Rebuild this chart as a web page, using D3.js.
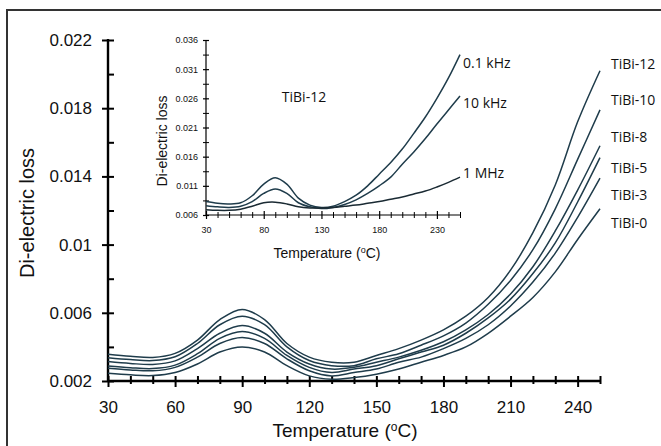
<!DOCTYPE html>
<html>
<head>
<meta charset="utf-8">
<script src="https://cdn.jsdelivr.net/npm/d3@7"></script>
<style>
  body { margin: 0; background: #fff; }
  svg { display: block; }
  text { font-family: "Liberation Sans", Arial, sans-serif; fill: #111; }
  .name { font-family: "Open Sans", sans-serif; }
</style>
</head>
<body>
<div id="chart"></div>
<script>
// temperature points shared by every curve (°C)
const temps = [30, 40, 50, 60, 70, 80, 90, 100, 110, 120, 130, 140, 150, 160, 170, 180, 190, 200, 210, 220, 230, 240, 250];

// main panel: di-electric loss for each sample
const tibi12 = [.00357, .00345, .00338, .00362, .0044, .0056, .0062, .0056, .0042, .0034, .0031, .0031, .0035, .0039, .0044, .0050, .0058, .0069, .0085, .0107, .0135, .0172, .0202];
const tibi10 = [.00337, .00326, .00320, .00342, .0042, .0053, .0058, .0053, .0040, .0032, .0029, .0029, .0033, .0036, .0041, .00465, .0054, .0065, .0079, .0097, .0121, .0150, .0179];
const tibi8 = [.00314, .00303, .00297, .00318, .0039, .0048, .00525, .0048, .0037, .0030, .0027, .0028, .0031, .0034, .0038, .0043, .0050, .0059, .0071, .0087, .0108, .0132, .0158];
const tibi5 = [.00288, .00278, .00273, .00293, .0036, .0045, .0049, .0045, .0035, .0028, .0025, .0027, .0029, .0033, .0037, .0041, .0048, .0057, .0068, .0083, .0101, .0125, .0151];
const tibi3 = [.00275, .00265, .00260, .00280, .0034, .0042, .00455, .0042, .0033, .0026, .0023, .0025, .0027, .0031, .0034, .0039, .0045, .0053, .0064, .0078, .0095, .0116, .0139];
const tibi0 = [.00245, .00236, .00232, .00250, .0030, .0037, .0040, .0037, .0029, .0023, .0021, .0022, .0024, .0027, .0031, .0035, .0040, .0048, .0058, .0069, .0084, .0103, .0121];
const sampleNames = ["TiBi-12", "TiBi-10", "TiBi-8", "TiBi-5", "TiBi-3", "TiBi-0"];
const sampleLevels = [0.02059, 0.01848, 0.01631, 0.01449, 0.01291, 0.01127]; // where each name sits

// inset: TiBi-12 at three frequencies
const f100Hz = [.0083, .0080, .0079, .0081, .0093, .0113, .0124, .0113, .0089, .0077, .0073, .0075, .0083, .0094, .0110, .0130, .0150, .0173, .0200, .0228, .0260, .0295, .0335];
const f10kHz = [.0076, .0074, .0073, .0075, .0083, .0097, .01045, .0097, .0081, .0074, .0071, .0073, .0078, .0086, .0097, .0110, .0125, .0147, .0168, .0191, .0216, .0240, .0264];
const f1MHz = [.0069, .0068, .0068, .0070, .0075, .0081, .0082, .0079, .0074, .0072, .0072, .0073, .0075, .0077, .0080, .0083, .0087, .0091, .0096, .0101, .0108, .0116, .0125];
const freqNames = ["0.1 kHz", "10 kHz", "1 MHz"];
const freqLevels = [0.03206, 0.0252, 0.0132];

// tick values
const xMajor = [30, 60, 90, 120, 150, 180, 210, 240];
const xMinor = d3.range(40, 251, 10).filter(d => !xMajor.includes(d));
const yMajor = [0.002, 0.006, 0.01, 0.014, 0.018, 0.022];
const yMinor = [0.004, 0.008, 0.012, 0.016, 0.02];
const inXMajor = [30, 80, 130, 180, 230];
const inXMinor = d3.range(40, 251, 10).filter(d => !inXMajor.includes(d));
const inYMajor = [0.006, 0.011, 0.016, 0.021, 0.026, 0.031, 0.036];
const inYMinor = [0.0085, 0.0135, 0.0185, 0.0235, 0.0285, 0.0335];

var width = 661,
    height = 446,
    lineColor = "#1f3c4b";

var svg = d3.select("#chart").append("svg")
    .attr("width", width)
    .attr("height", height);

// frame round the figure (runs off the right and bottom edges)
svg.append("rect")
    .attr("x", 7).attr("y", 10)
    .attr("width", 700).attr("height", 500)
    .attr("fill", "none")
    .attr("stroke", "#333")
    .attr("stroke-width", 2);

//main scales
var x = d3.scaleLinear().domain([30, 250]).range([108, 600]);
var y = d3.scaleLinear().domain([0.002, 0.022]).range([381, 40]);

// x axis
var gx = svg.append("g").attr("transform", "translate(0," + y(0.002) + ")");
gx.append("line")
    .attr("x1", x(30)).attr("x2", x(250) + 1)
    .attr("stroke", "#000").attr("stroke-width", 2.4);
gx.call(d3.axisBottom(x).tickValues(xMajor).tickSize(6).tickPadding(14).tickFormat(d3.format("d")))
  .call(g => g.select(".domain").remove());
gx.selectAll(".tick line").attr("y1", -5).attr("stroke-width", 2);
gx.selectAll(".tick text").style("font-size", "17px").attr("fill", "#111");
var gxm = gx.append("g").call(d3.axisBottom(x).tickValues(xMinor).tickSize(3).tickFormat(""));
gxm.select(".domain").remove();
gxm.selectAll(".tick line").attr("y1", -5).attr("stroke-width", 2);

// y axis
var gy = svg.append("g").attr("transform", "translate(" + x(30) + ",0)");
gy.append("line")
    .attr("y1", y(0.002)).attr("y2", y(0.022) - 1)
    .attr("stroke", "#000").attr("stroke-width", 2.4);
gy.call(d3.axisLeft(y).tickValues(yMajor).tickSize(6).tickPadding(10).tickFormat(d => String(+d.toFixed(3))))
  .call(g => g.select(".domain").remove());
gy.selectAll(".tick line").attr("x1", 6).attr("stroke-width", 2);
gy.selectAll(".tick text").style("font-size", "17px").attr("fill", "#111");
var gym = gy.append("g").call(d3.axisRight(y).tickValues(yMinor).tickSize(6).tickFormat(""));
gym.select(".domain").remove();
gym.selectAll(".tick line").attr("stroke-width", 2);

// axis titles
svg.append("text")
    .attr("transform", "translate(34,213) rotate(-90)")
    .attr("text-anchor", "middle")
    .style("font-size", "20px")
    .text("Di-electric loss");

var xt = svg.append("text")
    .attr("x", 345).attr("y", 437)
    .attr("text-anchor", "middle")
    .style("font-size", "19px");
xt.append("tspan").text("Temperature (");
xt.append("tspan").attr("dy", -6).style("font-size", "12px").text("o");
xt.append("tspan").attr("dy", 6).text("C)");

// main curves
var mainData = [tibi12, tibi10, tibi8, tibi5, tibi3, tibi0];
var line = d3.line()
    .x((d, i) => x(temps[i]))
    .y(d => y(d))
    .curve(d3.curveCatmullRom.alpha(0.5));

svg.append("g").selectAll("path")
    .data(mainData)
  .enter().append("path")
    .attr("d", line)
    .attr("fill", "none")
    .attr("stroke", lineColor)
    .attr("stroke-width", 1.5);

svg.append("g").selectAll("text")
    .data(sampleNames)
  .enter().append("text")
    .attr("class", "name")
    .attr("x", x(250) + 11)
    .attr("y", (d, i) => y(sampleLevels[i]))
    .attr("dy", "0.35em")
    .style("font-size", "14px")
    .text(d => d);

// ---- inset ----
var xi = d3.scaleLinear().domain([30, 250]).range([206, 460]);
var yi = d3.scaleLinear().domain([0.006, 0.036]).range([215, 40]);

var ix = svg.append("g").attr("transform", "translate(0," + yi(0.006) + ")");
ix.append("line")
    .attr("x1", xi(30)).attr("x2", xi(250) + 1)
    .attr("stroke", "#000").attr("stroke-width", 1.2);
ix.call(d3.axisBottom(xi).tickValues(inXMajor).tickSize(4).tickPadding(8))
  .call(g => g.select(".domain").remove());
ix.selectAll(".tick line").attr("y1", -4).attr("stroke-width", 1.2);
ix.selectAll(".tick text").style("font-size", "9px").attr("fill", "#111");
var ixm = ix.append("g").call(d3.axisBottom(xi).tickValues(inXMinor).tickSize(3).tickFormat(""));
ixm.select(".domain").remove();
ixm.selectAll(".tick line").attr("y1", -3).attr("stroke-width", 1);

var iy = svg.append("g").attr("transform", "translate(" + xi(30) + ",0)");
iy.append("line")
    .attr("y1", yi(0.006)).attr("y2", yi(0.036))
    .attr("stroke", "#000").attr("stroke-width", 1.2);
iy.call(d3.axisLeft(yi).tickValues(inYMajor).tickSize(3).tickPadding(5).tickFormat(d3.format(".3f")))
  .call(g => g.select(".domain").remove());
iy.selectAll(".tick line").attr("x1", 3).attr("stroke-width", 1.2);
iy.selectAll(".tick text").style("font-size", "9px").attr("fill", "#111");
var iym = iy.append("g").call(d3.axisLeft(yi).tickValues(inYMinor).tickSize(3).tickFormat(""));
iym.select(".domain").remove();
iym.selectAll(".tick line").attr("x1", 3).attr("stroke-width", 1);

svg.append("text")
    .attr("transform", "translate(167,141) rotate(-90)")
    .attr("text-anchor", "middle")
    .style("font-size", "14px")
    .text("Di-electric loss");

var it = svg.append("text")
    .attr("x", 327).attr("y", 258)
    .attr("text-anchor", "middle")
    .style("font-size", "14px");
it.append("tspan").text("Temperature (");
it.append("tspan").attr("dy", -5).style("font-size", "9px").text("o");
it.append("tspan").attr("dy", 5).text("C)");

svg.append("text")
    .attr("class", "name")
    .attr("x", 304).attr("y", 97)
    .attr("dy", "0.35em")
    .attr("text-anchor", "middle")
    .style("font-size", "14px")
    .text("TiBi-12");

var insetLine = d3.line()
    .x((d, i) => xi(temps[i]))
    .y(d => yi(d))
    .curve(d3.curveCatmullRom.alpha(0.5));

svg.append("g").selectAll("path")
    .data([f100Hz, f10kHz, f1MHz])
  .enter().append("path")
    .attr("d", insetLine)
    .attr("fill", "none")
    .attr("stroke", (d, i) => i == 2 ? "#1a2a33" : lineColor)
    .attr("stroke-width", 1.5);

svg.append("g").selectAll("text")
    .data(freqNames)
  .enter().append("text")
    .attr("class", "name")
    .attr("x", xi(250) + 3)
    .attr("y", (d, i) => yi(freqLevels[i]))
    .attr("dy", "0.35em")
    .style("font-size", "14px")
    .text(d => d);
</script>
</body>
</html>
